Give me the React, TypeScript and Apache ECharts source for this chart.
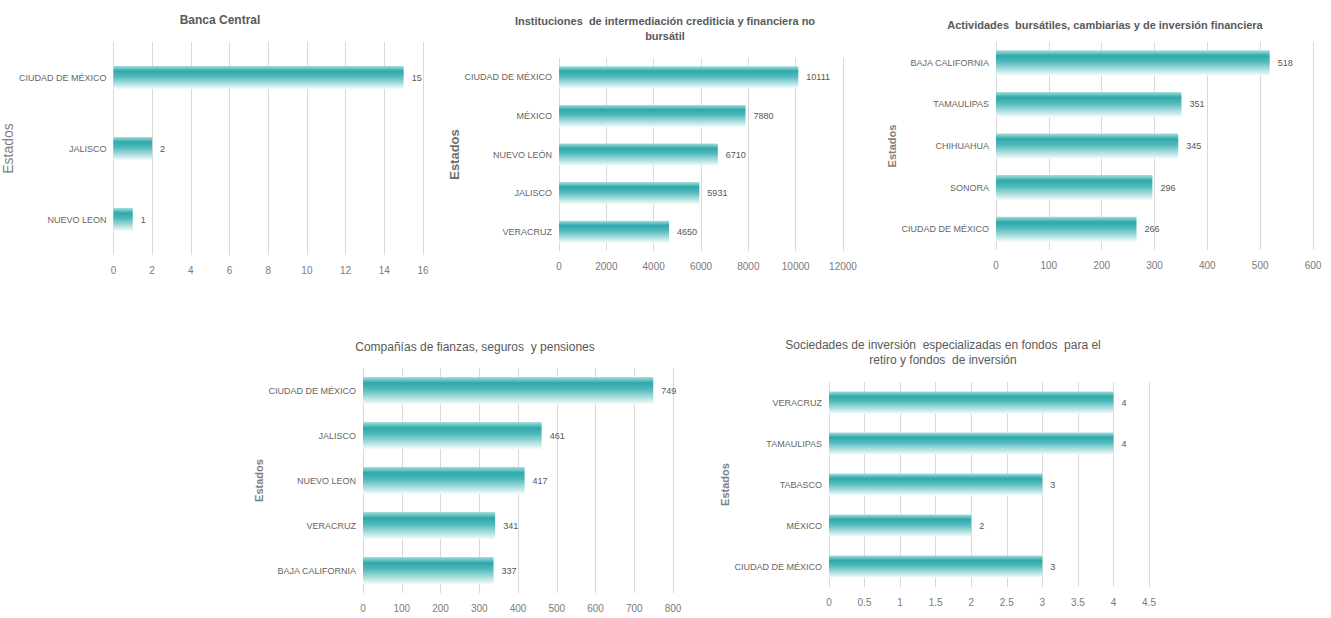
import React, { useEffect, useRef } from "react";
import * as echarts from "echarts";

const titles = [
  "Banca Central",
  "Instituciones  de intermediación crediticia y financiera no\nbursátil",
  "Actividades  bursátiles, cambiarias y de inversión financiera",
  "Compañías de fianzas, seguros  y pensiones",
  "Sociedades de inversión  especializadas en fondos  para el\nretiro y fondos  de inversión",
];

const cats1 = ["CIUDAD DE MÉXICO", "JALISCO", "NUEVO LEON"];
const vals1 = [15, 2, 1];

const cats2 = ["CIUDAD DE MÉXICO", "MÉXICO", "NUEVO LEÓN", "JALISCO", "VERACRUZ"];
const vals2 = [10111, 7880, 6710, 5931, 4650];

const cats3 = ["BAJA CALIFORNIA", "TAMAULIPAS", "CHIHUAHUA", "SONORA", "CIUDAD DE MÉXICO"];
const vals3 = [518, 351, 345, 296, 266];

const cats4 = ["CIUDAD DE MÉXICO", "JALISCO", "NUEVO LEON", "VERACRUZ", "BAJA CALIFORNIA"];
const vals4 = [749, 461, 417, 341, 337];

const cats5 = ["VERACRUZ", "TAMAULIPAS", "TABASCO", "MÉXICO", "CIUDAD DE MÉXICO"];
const vals5 = [4, 4, 3, 2, 3];

const axisMax = [16, 12000, 600, 800, 4.5];
const axisInterval = [2, 2000, 100, 100, 0.5];

const FONT = "'Liberation Sans Narrow', 'Arial Narrow', 'Liberation Sans', Arial, sans-serif";

export default function App() {
  const ref = useRef<HTMLDivElement>(null);
  useEffect(() => {
    if (!ref.current) return;
    const chart = echarts.init(ref.current, null, { renderer: "svg" });

    const cats = [cats1, cats2, cats3, cats4, cats5];
    const vals = [vals1, vals2, vals3, vals4, vals5];
    const grids = [
      { left: 111, top: 42, width: 312, height: 213 },
      { left: 559, top: 58, width: 284, height: 193 },
      { left: 996, top: 42, width: 317, height: 208 },
      { left: 363, top: 368, width: 310, height: 225 },
      { left: 829, top: 382, width: 320, height: 205 },
    ];
    const barWidths = [23, 22, 25, 27, 22];
    const nameGaps = [96, 91, 99, 98, 96];
    const nameStyles = [
      { size: 14, weight: "normal", color: "#7f7f7f" },
      { size: 13, weight: "bold", color: "#6f6f6f" },
      { size: 11, weight: "bold", color: "#7f7f7f" },
      { size: 11, weight: "bold", color: "#7f7f7f" },
      { size: 11, weight: "bold", color: "#7f7f7f" },
    ];
    const titlePos = [
      { x: 215, y: 7, size: 12, bold: "bold" },
      { x: 660, y: 8, size: 11, bold: "bold" },
      { x: 1100, y: 12, size: 11, bold: "bold" },
      { x: 470, y: 334, size: 12, bold: "normal" },
      { x: 938, y: 332, size: 12, bold: "normal" },
    ];

    const gradient = () =>
      new echarts.graphic.LinearGradient(0, 0, 0, 1, [
        { offset: 0, color: "#a6dfdf" },
        { offset: 0.22, color: "#2ea8aa" },
        { offset: 0.45, color: "#4fb9ba" },
        { offset: 1, color: "#f4fbfb" },
      ]);

    chart.setOption({
      animation: false,
      backgroundColor: "#ffffff",
      title: titles.map((t, i) => ({
        text: t,
        left: titlePos[i].x,
        top: titlePos[i].y,
        textAlign: "center",
        textStyle: {
          fontFamily: FONT,
          fontSize: titlePos[i].size,
          fontWeight: titlePos[i].bold,
          color: "#595959",
          lineHeight: 15,
        },
      })),
      grid: grids.map((g) => ({ ...g, containLabel: false })),
      xAxis: grids.map((_, i) => ({
        type: "value",
        gridIndex: i,
        min: 0,
        max: axisMax[i],
        interval: axisInterval[i],
        axisLine: { show: false },
        axisTick: { show: false },
        splitLine: { show: true, lineStyle: { color: "#d9d9d9", width: 1 } },
        axisLabel: {
          color: "#7a7a7a",
          fontSize: 10,
          fontFamily: FONT,
          margin: 10,
          formatter: (v: number) => String(v),
        },
      })),
      yAxis: grids.map((_, i) => ({
        type: "category",
        gridIndex: i,
        inverse: true,
        data: cats[i],
        axisLine: { show: false },
        axisTick: { show: false },
        axisLabel: { color: "#666666", fontSize: 9, fontFamily: FONT, margin: 7 },
        name: "Estados",
        nameLocation: "middle",
        nameRotate: 90,
        nameGap: nameGaps[i],
        nameTextStyle: {
          color: nameStyles[i].color,
          fontSize: nameStyles[i].size,
          fontWeight: nameStyles[i].weight,
          fontFamily: FONT,
        },
      })),
      series: grids.map((_, i) => ({
        type: "bar",
        xAxisIndex: i,
        yAxisIndex: i,
        data: vals[i],
        barWidth: barWidths[i],
        itemStyle: { color: gradient() },
        label: {
          show: true,
          position: "right",
          distance: 8,
          color: "#555555",
          fontSize: 9,
          fontFamily: FONT,
        },
      })),
    });
    return () => chart.dispose();
  }, []);
  return (
    <div
      ref={ref}
      style={{ position: "fixed", left: 0, top: 0, width: 1331, height: 618, background: "#fff" }}
    />
  );
}
